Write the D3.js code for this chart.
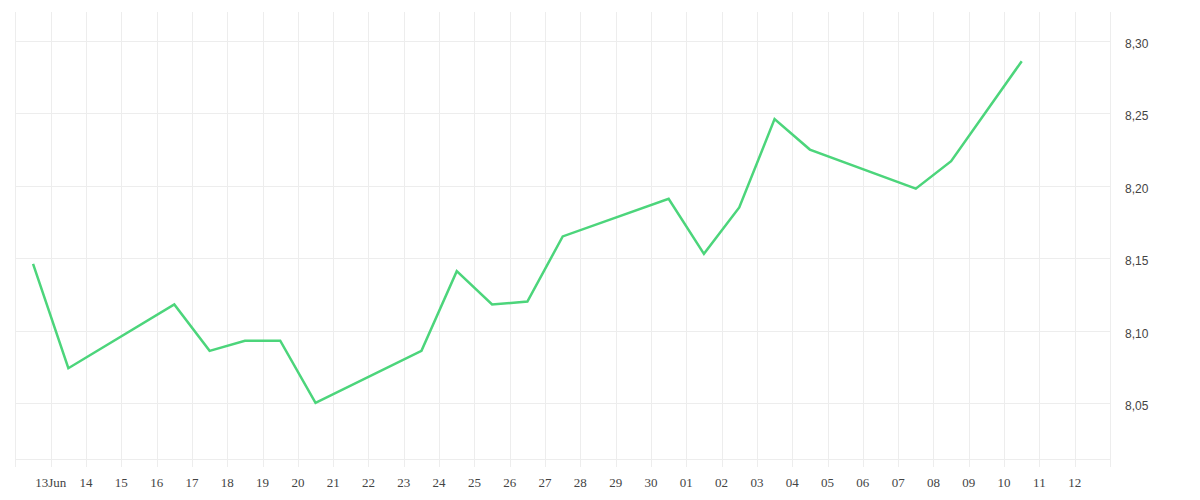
<!DOCTYPE html>
<html>
<head>
<meta charset="utf-8">
<script src="https://cdn.jsdelivr.net/npm/d3@7"></script>
<style>
  html, body { margin: 0; padding: 0; background: #fff; }
  svg { display: block; }
</style>
</head>
<body>
<svg id="chart" width="1200" height="500"></svg>
<script>
// ---- data ----
const dates = ["2014-06-12","2014-06-13","2014-06-16","2014-06-17","2014-06-18","2014-06-19","2014-06-20",
  "2014-06-23","2014-06-24","2014-06-25","2014-06-26","2014-06-27","2014-06-30",
  "2014-07-01","2014-07-02","2014-07-03","2014-07-04","2014-07-07","2014-07-08","2014-07-10"];
const values = [8.146, 8.074, 8.118, 8.086, 8.093, 8.093, 8.050,
  8.086, 8.141, 8.118, 8.120, 8.165, 8.191,
  8.153, 8.185, 8.246, 8.225, 8.198, 8.217, 8.286];
const xTickLabels = ["13Jun","14","15","16","17","18","19","20","21","22","23","24","25","26","27","28","29","30",
  "01","02","03","04","05","06","07","08","09","10","11","12"];
const yTickValues = [8.05, 8.10, 8.15, 8.20, 8.25, 8.30];
const yTickLabels = ["8,05","8,10","8,15","8,20","8,25","8,30"];
const xDomain = ["2014-06-12", "2014-07-13"];
const yDomain = [8.0113, 8.3200];

// ---- layout ----
const svg = d3.select("#chart");
const mLeft = 15.4, mRight = 1110, mTop = 12, mBottom = 459;
const parse = d3.utcParse("%Y-%m-%d");

const x = d3.scaleUtc().domain(xDomain.map(parse)).range([mLeft, mRight]);
const y = d3.scaleLinear().domain(yDomain).range([mBottom, mTop]);

const grid = "#ededed";

// vertical grid lines (every day, incl. edges)
const allDays = d3.utcDay.range(parse(xDomain[0]), d3.utcDay.offset(parse(xDomain[1]), 1));
svg.append("g").selectAll("line").data(allDays).join("line")
  .attr("x1", d => Math.round(x(d)) + 0.5).attr("x2", d => Math.round(x(d)) + 0.5)
  .attr("y1", mTop).attr("y2", mBottom + 8)
  .attr("stroke", grid).attr("stroke-width", 1);

// horizontal grid lines
svg.append("g").selectAll("line").data(yTickValues).join("line")
  .attr("x1", mLeft).attr("x2", mRight)
  .attr("y1", d => Math.round(y(d)) + 0.5).attr("y2", d => Math.round(y(d)) + 0.5)
  .attr("stroke", grid).attr("stroke-width", 1);
svg.append("line")
  .attr("x1", mLeft).attr("x2", mRight)
  .attr("y1", Math.round(mBottom) + 0.5).attr("y2", Math.round(mBottom) + 0.5)
  .attr("stroke", grid).attr("stroke-width", 1);

// x tick labels
const tickDays = d3.utcDay.range(d3.utcDay.offset(parse(xDomain[0]), 1), parse(xDomain[1]));
svg.append("g").selectAll("text").data(tickDays).join("text")
  .attr("x", d => x(d)).attr("y", 487)
  .attr("text-anchor", "middle")
  .attr("font-family", "'Liberation Serif', serif")
  .attr("font-size", 13)
  .attr("fill", "#444")
  .text((d, i) => xTickLabels[i]);

// y tick labels (right side)
svg.append("g").selectAll("text").data(yTickValues).join("text")
  .attr("x", 1125).attr("y", d => y(d) + 7)
  .attr("text-anchor", "start")
  .attr("font-family", "'Liberation Sans', sans-serif")
  .attr("font-size", 12)
  .attr("fill", "#444")
  .text((d, i) => yTickLabels[i]);

// line
const pts = dates.map((d, i) => ({ t: d3.utcHour.offset(parse(d), 12), v: values[i] }));
const line = d3.line().x(d => x(d.t)).y(d => y(d.v));
svg.append("path").datum(pts)
  .attr("d", line)
  .attr("fill", "none")
  .attr("stroke", "#4cd57b")
  .attr("stroke-width", 2.5)
  .attr("stroke-linejoin", "miter");
</script>
</body>
</html>
